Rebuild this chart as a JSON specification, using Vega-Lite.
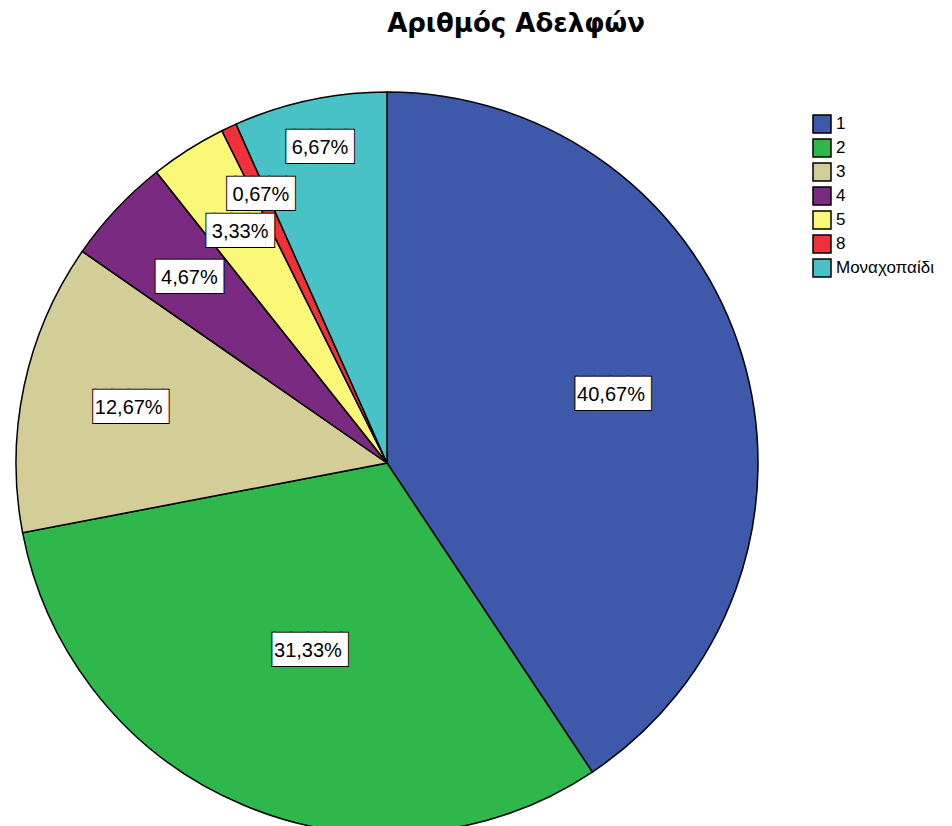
{
  "$schema": "https://vega.github.io/schema/vega-lite/v6.json",
  "autosize": "none",
  "width": 752,
  "height": 726,
  "padding": {"left": 11, "top": 100, "right": 189, "bottom": 0},
  "background": "white",
  "title": {
    "text": "Αριθμός Αδελφών",
    "font": "DejaVu Sans",
    "fontSize": 26,
    "fontWeight": "bold",
    "color": "black",
    "anchor": "middle",
    "frame": "group",
    "dx": 129,
    "offset": 31,
    "baseline": "alphabetic"
  },
  "data": {
    "values": [
      {"cat": "1", "pct": 40.67},
      {"cat": "2", "pct": 31.33},
      {"cat": "3", "pct": 12.67},
      {"cat": "4", "pct": 4.67},
      {"cat": "5", "pct": 3.33},
      {"cat": "8", "pct": 0.67},
      {"cat": "Μοναχοπαίδι", "pct": 6.67}
    ]
  },
  "transform": [
    {"calculate": "replace(format(datum.pct, '.2f'), '.', ',') + '%'", "as": "label"},
    {"calculate": "length(datum.label) > 5 ? '▕████▍' : '▐███▌'", "as": "box"}
  ],
  "encoding": {
    "theta": {"field": "pct", "type": "quantitative", "stack": true},
    "order": {"field": "cat", "type": "nominal", "sort": "ascending"}
  },
  "layer": [
    {
      "mark": {"type": "arc", "outerRadius": 371, "stroke": "black", "strokeWidth": 1.5},
      "encoding": {
        "color": {
          "field": "cat",
          "type": "nominal",
          "scale": {
            "domain": ["1", "2", "3", "4", "5", "8", "Μοναχοπαίδι"],
            "range": ["#3e58aa", "#2eb84b", "#d3cd97", "#7a2a80", "#fbf877", "#f03139", "#48c2c6"]
          },
          "legend": {
            "title": null,
            "orient": "right",
            "offset": 35,
            "padding": 14,
            "symbolType": "square",
            "symbolSize": 324,
            "symbolStrokeColor": "black",
            "symbolStrokeWidth": 1.5,
            "symbolOpacity": 1,
            "labelFont": "Liberation Sans",
            "labelFontSize": 17,
            "labelColor": "black",
            "labelOffset": 4,
            "rowPadding": 0
          }
        }
      }
    },
    {
      "mark": {"type": "text", "font": "DejaVu Sans Mono", "fontSize": 28, "fill": "black", "stroke": "black", "strokeWidth": 2, "align": "center", "baseline": "middle"},
      "encoding": {
        "radius": {"field": "pct", "type": "quantitative", "scale": {"type": "linear", "zero": false, "nice": false, "domain": [0.67, 3.33, 4.67, 6.67, 12.67, 31.33, 40.67], "range": [296, 274, 271, 322, 264, 204, 234]}},
        "text": {"field": "box"}
      }
    },
    {
      "mark": {"type": "text", "font": "DejaVu Sans Mono", "fontSize": 28, "fill": "white", "align": "center", "baseline": "middle"},
      "encoding": {
        "radius": {"field": "pct", "type": "quantitative"},
        "text": {"field": "box"}
      }
    },
    {
      "mark": {"type": "text", "font": "Liberation Sans", "fontSize": 20, "fill": "black", "align": "center", "baseline": "middle"},
      "encoding": {
        "radius": {"field": "pct", "type": "quantitative"},
        "text": {"field": "label"}
      }
    }
  ]
}
